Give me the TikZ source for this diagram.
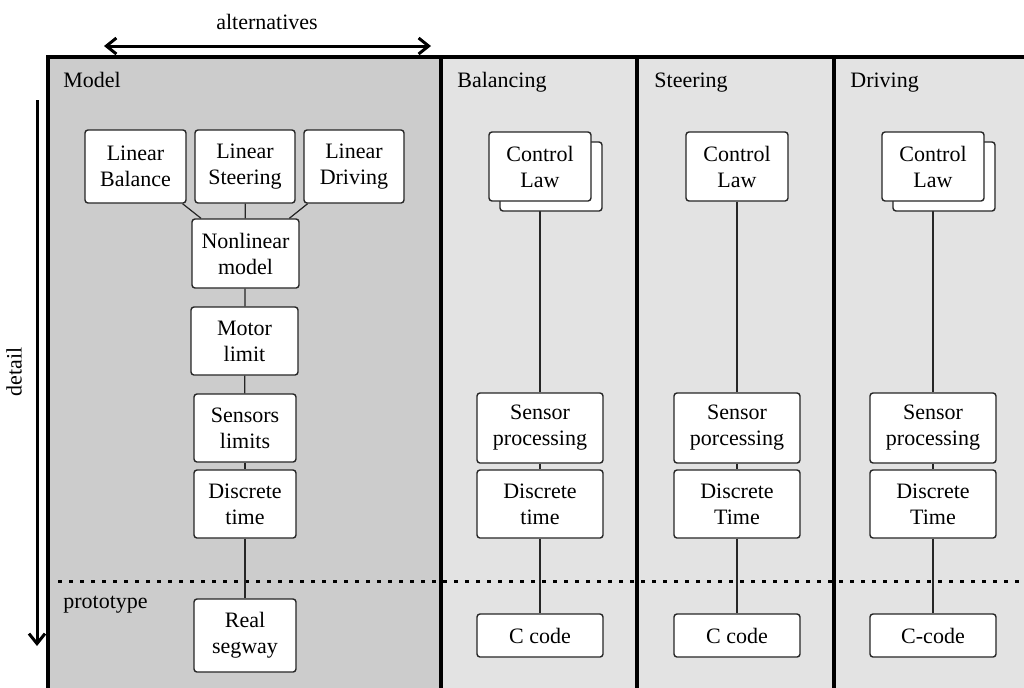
\documentclass[tikz,border=0pt]{standalone}
\usepackage{fontspec}
\setmainfont{Liberation Serif}
\usetikzlibrary{arrows.meta}
\begin{document}
\begin{tikzpicture}[x=0.5pt,y=-0.5pt,
  txt/.style={font=\fontsize{11}{13}\selectfont, inner sep=0pt},
  box/.style={draw=black!85, line width=0.7pt, fill=white, rounded corners=1.5pt,
    inner sep=0pt, align=center, font=\fontsize{11}{13}\selectfont},
  wh/.style 2 args={minimum width=#1*0.5pt, minimum height=#2*0.5pt},
  conn/.style={line width=0.6pt, draw=black!85},
  panelline/.style={line width=2pt, draw=black},
  sep/.style={line width=1.5pt, dash pattern=on 2pt off 3.5pt},
  bigarrow/.style={line width=1.5pt},
  tip/.tip={Straight Barb[length=5pt,width=8pt,line width=1.5pt]}]
\useasboundingbox (0,0) rectangle (1024,687);
\clip (0,0) rectangle (1024,687);
% panels
\fill[black!20] (48,57) rectangle (441,700);
\fill[black!11] (441,57) rectangle (1030,700);
\draw[panelline] (48,700) -- (48,57) -- (1030,57);
\draw[panelline] (441,57) -- (441,700);
\draw[panelline] (637,57) -- (637,700);
\draw[panelline] (834,57) -- (834,700);
% panel labels
\node[txt, anchor=base west] (lmodel) at (63,87) {Model};
\node[txt, anchor=base west] (lbal) at (457,87) {Balancing};
\node[txt, anchor=base west] (lste) at (654,87) {Steering};
\node[txt, anchor=base west] (ldri) at (850,87) {Driving};
\node[txt, anchor=base west] (lproto) at (63,608) {prototype};
% alternatives / detail
\coordinate (altL) at (104,46);
\coordinate (altR) at (431,46);
\draw[bigarrow, tip-tip] (altL) -- (altR);
\node[txt] (alt) at (267,22) {alternatives};
\coordinate (detT) at (37,100);
\coordinate (detB) at (37,646);
\draw[bigarrow, -tip] (detT) -- (detB);
\node[txt, rotate=90] (det) at (14,372) {detail};
% dotted separator
\coordinate (sepL) at (58,581);
\coordinate (sepR) at (1030,581);
\draw[sep] (sepL) -- (sepR);
% model column nodes
\node[box, wh={101}{73}] (lb) at (135.5,166.5) {Linear\\Balance};
\node[box, wh={100}{73}] (ls) at (245,166.5) {Linear\\Steering};
\node[box, wh={100}{73}] (ld) at (354,166.5) {Linear\\Driving};
\node[box, wh={107}{69}] (nl) at (245.5,253.5) {Nonlinear\\model};
\node[box, wh={107}{68}] (ml) at (244.5,341) {Motor\\limit};
\node[box, wh={102}{68}] (sl) at (245,428) {Sensors\\limits};
\node[box, wh={102}{68}] (dt) at (245,504) {Discrete\\time};
\node[box, wh={102}{73}] (rs) at (245,635.5) {Real\\segway};
\draw[conn] (lb) -- (nl);
\draw[conn] (ls) -- (nl);
\draw[conn] (ld) -- (nl);
\draw[conn] (nl) -- (ml);
\draw[conn] (ml) -- (sl);
\draw[conn] (sl) -- (dt);
\draw[conn] (dt) -- (rs);
% balancing column
\node[box, wh={126}{70}] (sp1) at (540,428) {Sensor\\processing};
\node[box, wh={126}{68}] (dt1) at (540,504) {Discrete\\time};
\node[box, wh={126}{43}] (cc1) at (540,635.5) {C code};
\coordinate (cl1c) at (540,166.5);
\draw[conn] (cl1c) -- (sp1);
\node[box, wh={102}{69}] (cl1b) at (551,176.5) {};
\node[box, wh={102}{69}] (cl1) at (cl1c) {Control\\Law};
\draw[conn] (sp1) -- (dt1);
\draw[conn] (dt1) -- (cc1);
% steering column
\node[box, wh={126}{70}] (sp2) at (737,428) {Sensor\\porcessing};
\node[box, wh={126}{68}] (dt2) at (737,504) {Discrete\\Time};
\node[box, wh={126}{43}] (cc2) at (737,635.5) {C code};
\node[box, wh={102}{69}] (cl2) at (737,166.5) {Control\\Law};
\draw[conn] (cl2) -- (sp2);
\draw[conn] (sp2) -- (dt2);
\draw[conn] (dt2) -- (cc2);
% driving column
\node[box, wh={126}{70}] (sp3) at (933,428) {Sensor\\processing};
\node[box, wh={126}{68}] (dt3) at (933,504) {Discrete\\Time};
\node[box, wh={126}{43}] (cc3) at (933,635.5) {C-code};
\coordinate (cl3c) at (933,166.5);
\draw[conn] (cl3c) -- (sp3);
\node[box, wh={102}{69}] (cl3b) at (944,176.5) {};
\node[box, wh={102}{69}] (cl3) at (cl3c) {Control\\Law};
\draw[conn] (sp3) -- (dt3);
\draw[conn] (dt3) -- (cc3);
\end{tikzpicture}
\end{document}
